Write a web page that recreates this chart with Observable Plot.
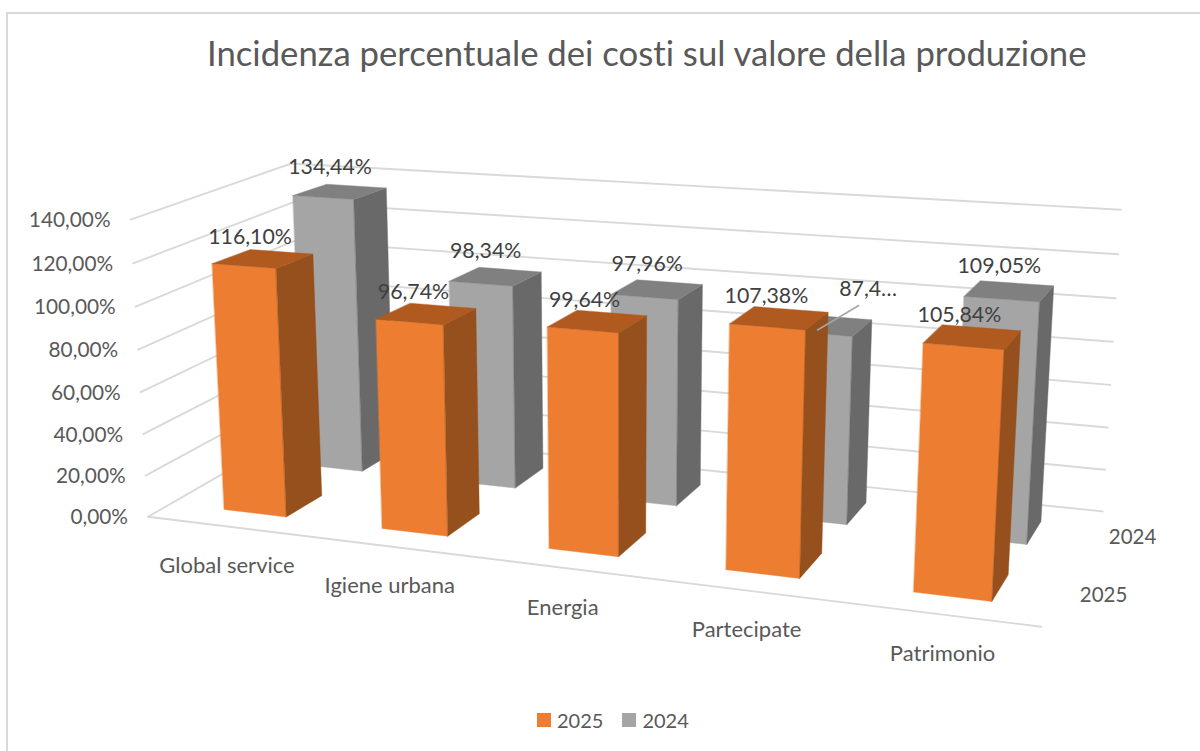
<!DOCTYPE html>
<html><head><meta charset="utf-8">
<script src="https://cdn.jsdelivr.net/npm/d3@7"></script>
<script src="https://cdn.jsdelivr.net/npm/@observablehq/plot@0.6"></script>
<style>
html,body{margin:0;padding:0;background:#fff;}
#page{position:relative;width:1200px;height:751px;overflow:hidden;font-family:Lato,sans-serif;font-variant-ligatures:none;}
#frame{position:absolute;left:6px;top:12px;width:1300px;height:800px;border:2px solid #d9d9d9;box-sizing:border-box;pointer-events:none;}
#title{position:absolute;left:207px;top:32px;font-size:34.7px;line-height:42px;color:#595959;white-space:nowrap;}
#chart{position:absolute;left:0;top:90px;}
#legend{position:absolute;left:537px;top:706px;height:28px;display:flex;align-items:center;font-size:20px;color:#595959;}
#legend i{display:inline-block;width:14px;height:14px;margin-right:6px;}
#legend span{margin-right:19px;}
</style></head><body>
<div id="page">
<div id="frame"></div>
<div id="title">Incidenza percentuale dei costi sul valore della produzione</div>
<div id="chart"></div>
<div id="legend"><i style="background:#ed7d31"></i><span>2025</span><i style="background:#a5a5a5"></i><span>2024</span></div>
</div>
<script>
const categories = ["Global service","Igiene urbana","Energia","Partecipate","Patrimonio"];
const values2025 = [116.10, 96.74, 99.64, 107.38, 105.84];
const values2024 = [134.44, 98.34, 97.96, 87.4, 109.05];
const labels2024 = ["134,44%","98,34%","97,96%","87,4…","109,05%"];
const seriesNames = ["2025","2024"];
const yTicks = [0,20,40,60,80,100,120,140];

// Perspective calibration: world (category, depth, value) -> screen, for the box and for the bars
const boxCalibration = [
  [0,0,0,148,518],[0,0,140,130.7,216],[0,2,0,301,427],[0,2,140,290,165],
  [5,2,0,1103,509],[5,2,140,1120.7,210],[5,0,0,1042.7,628]
];
const barCalibration = [
  [.3,.275,116.1,211,263],[.7,.275,116.1,275.3,267],[.7,.725,116.1,309,254.7],[.3,.725,116.1,246.7,250],
  [.3,.275,0,222.7,509],[.7,.275,0,285,516],[.7,.725,0,318,496],
  [.3,1.275,134.44,296,193],[.7,1.275,134.44,356.7,197],[.7,1.725,134.44,386,187],[.3,1.725,134.44,327,183],
  [.3,1.275,0,317,463],[.7,1.275,0,365.7,467.7],[.7,1.725,0,379,459],
  [1.3,.275,96.74,375.3,319],[1.3,.275,0,381.7,527.7],[1.7,.275,0,447.7,535],[1.7,.725,0,476.7,514],
  [3.3,.275,107.38,730,324],[3.7,.275,107.38,806,329.3],[3.7,.725,107.38,826,313.7],[3.3,.725,107.38,753,308],
  [3.3,.275,0,726.7,568.7],[3.7,.275,0,800.7,577],[3.7,.725,0,820.3,554.3],
  [4.3,.275,105.84,923,343],[4.7,.275,105.84,1003,349],[4.7,.725,105.84,1018.7,332],[4.3,.725,105.84,940.7,326],
  [4.3,.275,0,914,591],[4.7,.275,0,992.7,600],[4.7,.725,0,1007,575.7],
  [4.3,1.275,109.05,965,295],[4.7,1.275,109.05,1040,300],[4.7,1.725,109.05,1052,286],[4.3,1.725,109.05,980,280],
  [4.7,1.275,0,1027.7,540],[4.7,1.725,0,1040.7,520]
];
function solveCamera(pts){
  const A=[],b=[];
  for(const [X,Y,Zv,u,v] of pts){
    const Z=Zv/100;
    A.push([X,Y,Z,1,0,0,0,0,-u*X,-u*Y,-u*Z]);b.push(u);
    A.push([0,0,0,0,X,Y,Z,1,-v*X,-v*Y,-v*Z]);b.push(v);
  }
  const n=11,M=Array.from({length:n},(_, i)=>{
    const r=new Array(n+1).fill(0);
    A.forEach((row,k)=>{for(let j=0;j<n;j++)r[j]+=row[i]*row[j];r[n]+=row[i]*b[k];});
    r[i]+=1e-9;return r;});
  for(let i=0;i<n;i++){
    let p=i;for(let k=i+1;k<n;k++)if(Math.abs(M[k][i])>Math.abs(M[p][i]))p=k;
    [M[i],M[p]]=[M[p],M[i]];
    for(let k=0;k<n;k++)if(k!==i){const f=M[k][i]/M[i][i];for(let j=i;j<=n;j++)M[k][j]-=f*M[i][j];}
  }
  return M.map((r,i)=>r[n]/r[i]);
}
const camera=C=>(X,Y,Zv)=>{
  const Z=Zv/100,w=C[8]*X+C[9]*Y+C[10]*Z+1;
  return {x:(C[0]*X+C[1]*Y+C[2]*Z+C[3])/w,y:(C[4]*X+C[5]*Y+C[6]*Z+C[7])/w};
};
const project=camera(solveCamera(boxCalibration));
const projectBar=camera(solveCamera(barCalibration));

const barW=0.40,barD=0.45;
const palette=[{front:"#ed7d31",side:"#96501d",top:"#b05a20"},{front:"#a5a5a5",side:"#696969",top:"#808080"}];
const faces=[];
function face(id,fill,corners){corners.forEach(c=>{const p=projectBar(...c);faces.push({id,fill,x:p.x,y:p.y});});}
[values2024,values2025].forEach((vals,si)=>{
  const s=si===0?1:0,col=palette[s];
  vals.forEach((v,i)=>{
    const x0=i+(1-barW)/2,x1=x0+barW,d0=s+(1-barD)/2,d1=d0+barD,id=s+"-"+i;
    face(id+"f",col.front,[[x0,d0,0],[x1,d0,0],[x1,d0,v],[x0,d0,v]]);
    face(id+"s",col.side,[[x1,d0,0],[x1,d1,0],[x1,d1,v],[x1,d0,v]]);
    face(id+"t",col.top,[[x0,d0,v],[x1,d0,v],[x1,d1,v],[x0,d1,v]]);
  });
});
const grid=[];
yTicks.forEach(t=>{[[0,0],[0,2],[5,2]].forEach(([X,Y])=>{const p=project(X,Y,t);grid.push({t,x:p.x,y:p.y});});});
const floorFront=[project(0,0,0),project(4.985,0,0)];
const tickPts=yTicks.map(t=>({...project(0,0,t),text:d3.format(".2f")(t).replace(".",",")+"%"}));
const catPts=categories.map((c,i)=>({...project(i+0.5,0,0),text:c}));
const serPts=seriesNames.map((s,i)=>({...project(5,i+0.5,0),text:s}));
const valPts=[];
[values2025,values2024].forEach((vals,s)=>vals.forEach((v,i)=>{
  const p=projectBar(i+.5,s+.5,v);
  valPts.push({...p,text:s===0?d3.format(".2f")(v).replace(".",",")+"%":labels2024[i],s,i});
}));
const trunc=valPts.find(d=>d.s===1&&d.i===3);
const leader=[{x1:trunc.x-10,y1:trunc.y+5,x2:trunc.x+32,y2:trunc.y-20}];
valPts.forEach(d=>{d.x+=d.s===0?-13:-10;d.y+=d.s===0?-21.5:-25;});
trunc.x+=51;trunc.y+=-11;

const plot=Plot.plot({
  width:1200,height:600,margin:0,
  x:{domain:[0,1200],range:[0,1200],axis:null},
  y:{domain:[90,690],range:[0,600],axis:null},
  color:{type:"identity"},
  style:{fontFamily:"Lato,sans-serif",background:"transparent",overflow:"visible",fontVariantLigatures:"none"},
  marks:[
    Plot.line(grid,{x:"x",y:"y",z:"t",stroke:"#d9d9d9",strokeWidth:1.9}),
    Plot.line(floorFront,{x:"x",y:"y",stroke:"#d9d9d9",strokeWidth:1.9}),
    Plot.line(faces,{x:"x",y:"y",z:"id",fill:"fill",stroke:"fill",strokeWidth:0.4,curve:"linear-closed"}),
    Plot.link(leader,{x1:"x1",y1:"y1",x2:"x2",y2:"y2",stroke:"#a6a6a6",strokeWidth:1.5}),
    Plot.text(tickPts,{x:"x",y:"y",text:"text",textAnchor:"end",dx:-20,dy:1,fontSize:20.8,fill:"#595959"}),
    Plot.text(catPts,{x:"x",y:"y",text:"text",dx:1,dy:40,fontSize:22,fill:"#595959"}),
    Plot.text(serPts,{x:"x",y:"y",text:"text",dx:43,dy:0,fontSize:20.5,fill:"#595959"}),
    Plot.text(valPts,{x:"x",y:"y",text:"text",fontSize:21.3,fill:"#404040"})
  ]
});
document.getElementById("chart").append(plot);
</script>
</body></html>
